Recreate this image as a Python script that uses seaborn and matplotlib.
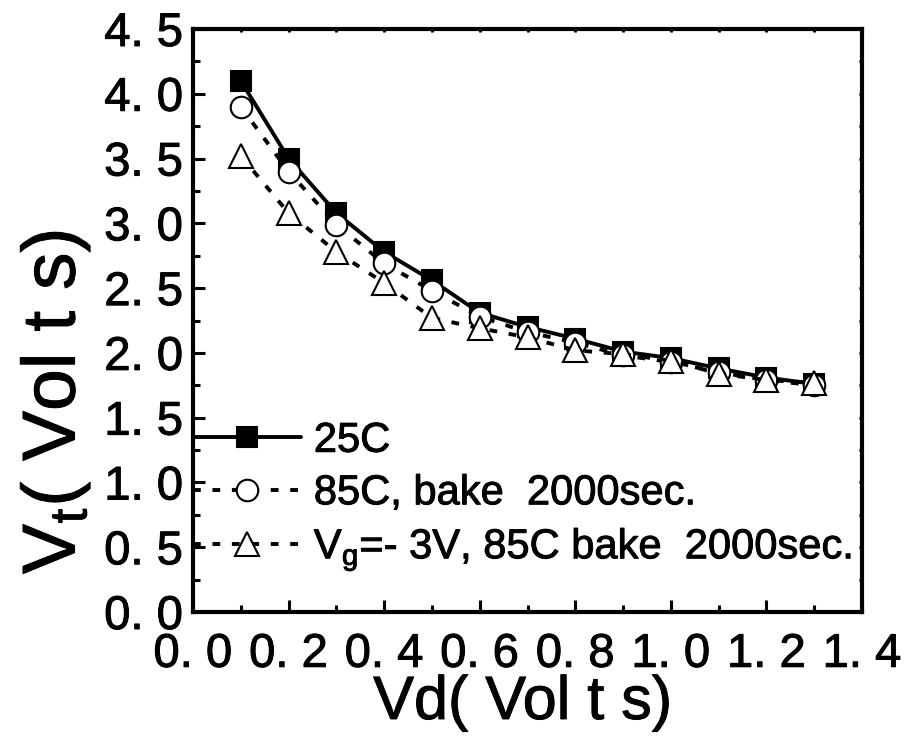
import matplotlib
matplotlib.use("Agg")
import matplotlib.pyplot as plt
import matplotlib.patheffects as pe
from matplotlib.ticker import MultipleLocator, FuncFormatter
import seaborn as sns

vd = [0.1, 0.2, 0.3, 0.4, 0.5, 0.6, 0.7, 0.8, 0.9, 1.0, 1.1, 1.2, 1.3]
vt_25c = [4.10, 3.50, 3.08, 2.78, 2.56, 2.31, 2.20, 2.11, 2.01, 1.96, 1.88, 1.81, 1.76]
vt_85c = [3.90, 3.40, 2.99, 2.69, 2.48, 2.28, 2.16, 2.08, 1.98, 1.93, 1.85, 1.79, 1.75]
vt_vg = [3.52, 3.08, 2.78, 2.54, 2.27, 2.19, 2.12, 2.02, 1.99, 1.94, 1.84, 1.79, 1.77]
labels = ["25C", "85C, bake  2000sec.", "V$_\\mathregular{g}$=- 3V, 85C bake  2000sec."]

sns.set_theme(style="ticks")
plt.rcParams["font.family"] = ["Liberation Sans", "DejaVu Sans"]
plt.rcParams["mathtext.default"] = "regular"
for k in ["text.color", "axes.labelcolor", "xtick.color", "ytick.color", "axes.edgecolor"]:
    plt.rcParams[k] = "black"

heavy = [pe.withStroke(linewidth=0.7, foreground="black")]

fig = plt.figure(figsize=(9.07, 7.46), dpi=100)
ax = fig.add_axes([193/907, 1-612/746, (862-193)/907, (612-29)/746])

series = [vt_25c, vt_85c, vt_vg]
markers = ["s", "o", "^"]
msizes = [14, 15.5, 17]
faces = ["black", "white", "white"]
styles = ["-", (0, (2, 3)), (0, (2, 3))]
widths = [2.8, 2.8, 2.8]
for y, lab, mk, ms, fc, ls, lw in zip(series, labels, markers, msizes, faces, styles, widths):
    sns.lineplot(x=vd, y=y, ax=ax, color="black", marker=mk, markersize=ms,
                 markerfacecolor=fc, markeredgecolor="black", markeredgewidth=1.5,
                 linestyle=ls, linewidth=lw, label=lab)

ax.set_xlim(0, 1.4)
ax.set_ylim(0, 4.5)
ax.xaxis.set_major_locator(MultipleLocator(0.2))
ax.xaxis.set_minor_locator(MultipleLocator(0.1))
ax.yaxis.set_major_locator(MultipleLocator(0.5))
ax.yaxis.set_minor_locator(MultipleLocator(0.25))
fmt = FuncFormatter(lambda v, p: ("%.1f" % v).replace(".", ". "))
ax.xaxis.set_major_formatter(fmt)
ax.yaxis.set_major_formatter(fmt)

for s in ax.spines.values():
    s.set_linewidth(3)
    s.set_color("black")
ax.tick_params(which="major", direction="in", length=8.6, width=2.2, labelsize=34,
               colors="black", left=True, bottom=True, top=False, right=False)
ax.tick_params(which="minor", direction="in", length=5, width=2.2,
               left=True, bottom=True, top=False, right=False)
ax.tick_params(axis="x", which="major", pad=15)
ax.tick_params(axis="y", which="major", pad=7)
ax.tick_params(axis="x", which="both", top=True, labeltop=False)
ax.tick_params(axis="y", which="both", right=True, labelright=False)
for t in ax.xaxis.get_major_ticks() + ax.xaxis.get_minor_ticks():
    t.tick2line.set_markersize(2.5)
for t in ax.yaxis.get_major_ticks() + ax.yaxis.get_minor_ticks():
    t.tick2line.set_markersize(2.5)

ax.set_xlabel("Vd( Vol t s)", fontsize=44, va="top")
ax.xaxis.set_label_coords(0.493, -0.108)
ax.set_ylabel("V$_\\mathregular{t}$( Vol t s)", fontsize=54)
ax.yaxis.set_label_coords(-0.151, 0.36)

handles, labs = ax.get_legend_handles_labels()
leg = ax.legend(handles, labs, loc="upper left", bbox_to_anchor=(0.0, 0.328),
                frameon=False, borderaxespad=0, borderpad=0, handlelength=2.6,
                handletextpad=0.3, labelspacing=0.3,
                prop={"size": 30})

fig.canvas.draw()
texts = ax.get_xticklabels() + ax.get_yticklabels() + leg.get_texts() + \
    [ax.xaxis.label, ax.yaxis.label]
for t in texts:
    t.set_path_effects(heavy)

fig.savefig("out.png", dpi=100)
